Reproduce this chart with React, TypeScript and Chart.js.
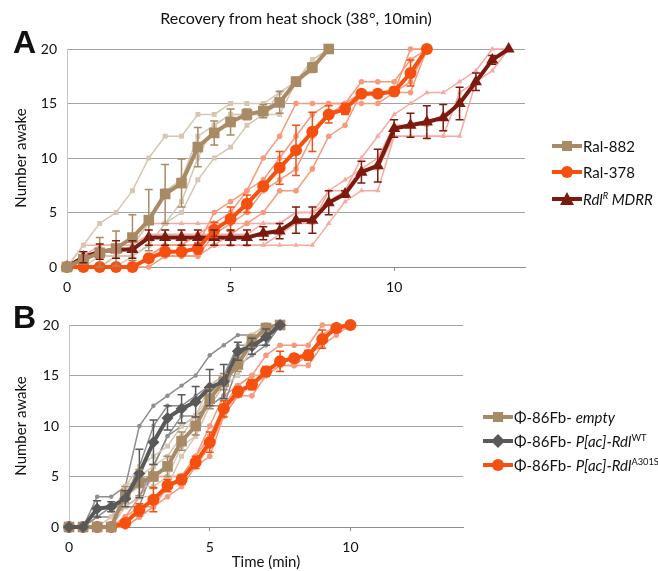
import React, { useEffect, useRef } from 'react';
import { Chart, registerables } from 'chart.js';
Chart.register(...registerables);

const FONT = 'Lato, "Liberation Sans", sans-serif';

// Time points (min)
const TIME_MIN = [0, 0.5, 1, 1.5, 2, 2.5, 3, 3.5, 4, 4.5, 5, 5.5, 6, 6.5, 7, 7.5, 8, 8.5, 9, 9.5, 10, 10.5, 11, 11.5, 12, 12.5, 13, 13.5];
const X_TICKS = [0, 5, 10];

// ---------- Panel A ----------
const RAL882_MEAN = [0, 0.7, 1.3, 1.7, 2.7, 4.3, 6.7, 7.7, 11, 12.3, 13.3, 14, 14.3, 15.1, 17, 18.3, 20];
const RAL882_SEM = [0, 0.4, 1.4, 1.6, 2.1, 2.8, 2.7, 2.2, 1.8, 1.1, 1.2, 0.5, 0.6, 1.0, 0.4, 0.4, 0];
const RAL882_REP1 = [0, 2, 4, 5, 7, 10, 12, 12, 14, 14, 15, 15, 15, 16, 17, 19, 20];
const RAL882_REP2 = [0, 0, 1, 1, 2, 4, 7, 8, 12, 13, 14, 14, 14, 16, 17, 18, 20];
const RAL882_REP3 = [0, 0, 0, 1, 1, 2, 4, 6, 10, 13, 14, 14, 14, 15, 17, 19, 20];
const RAL882_REP4 = [0, 0, 0, 0, 1, 2, 4, 5, 8, 10, 11, 13, 14, 14, 17, 18, 20];

const RAL378_MEAN = [0, 0, 0, 0, 0, 0.8, 1.4, 1.4, 1.7, 3.4, 4.4, 5.8, 7.4, 9.1, 10.7, 12.4, 14, 14.5, 15.9, 15.9, 16.1, 17.8, 20];
const RAL378_SEM = [0, 0, 0, 0, 0, 0.3, 0.4, 0.3, 0.5, 0.7, 1.1, 0.8, 0.4, 1.5, 2.3, 1.8, 0.8, 0.5, 0.3, 0.3, 0.4, 1.2, 0];
const RAL378_REP1 = [0, 0, 0, 0, 0, 1, 2, 2, 2, 5, 6, 7, 10, 12, 15, 15, 15, 15, 15, 15, 16, 20, 20];
const RAL378_REP2 = [0, 0, 0, 0, 0, 1, 2, 2, 3, 4, 5, 7, 8, 10, 12, 14, 15, 15, 17, 17, 17, 19, 20];
const RAL378_REP3 = [0, 0, 0, 0, 0, 1, 1, 1, 1, 3, 4, 5, 7, 8, 9, 12, 14, 15, 16, 16, 16, 17, 20];
const RAL378_REP4 = [0, 0, 0, 0, 0, 0, 1, 1, 1, 2, 3, 4, 5, 7, 7, 9, 12, 13, 16, 16, 16, 16, 20];

const MDRR_MEAN = [0, 0.9, 1.4, 1.6, 1.6, 2.7, 2.7, 2.7, 2.7, 2.7, 2.7, 2.7, 3.1, 3.3, 4.3, 4.3, 5.9, 6.7, 8.7, 9.3, 12.7, 13, 13.3, 13.7, 15, 17, 19, 20];
const MDRR_SEM = [0, 0.5, 0.7, 0.8, 0.8, 0.7, 0.7, 0.7, 0.7, 0.7, 0.7, 0.7, 0.6, 0.7, 1.2, 1.2, 1.1, 0.3, 1.0, 1.5, 0.8, 1.1, 1.5, 1.2, 1.5, 0.8, 0.4, 0];
const MDRR_REP1 = [0, 2, 2, 2, 2, 4, 4, 4, 4, 4, 4, 4, 4, 4, 5, 5, 7, 7, 10, 12, 14, 15, 16, 16, 17, 18, 20, 20];
const MDRR_REP2 = [0, 1, 2, 2, 2, 3, 3, 3, 3, 3, 3, 3, 4, 4, 5, 5, 6, 7, 9, 10, 13, 13, 13, 14, 15, 17, 19, 20];
const MDRR_REP3 = [0, 1, 1, 1, 1, 2, 2, 2, 2, 2, 2, 2, 2, 3, 4, 4, 7, 8, 9, 9, 12, 12, 12, 12, 12, 17, 19, 20];
const MDRR_REP4 = [0, 0, 0, 1, 1, 2, 2, 2, 2, 2, 2, 2, 2, 2, 2, 2, 4, 6, 7, 7, 12, 12, 12, 12, 16, 17, 18, 20];

// ---------- Panel B ----------
const EMPTY_MEAN = [0, 0, 0, 0, 3.2, 4.4, 5, 6, 8.5, 10, 12.7, 14.4, 16.1, 18.4, 19.7, 20];
const EMPTY_SEM = [0, 0, 0, 0, 0.8, 1.3, 1.2, 1.0, 0.9, 0.9, 1.0, 0.8, 0.7, 0.6, 0.3, 0];
const EMPTY_REP1 = [0, 0, 0, 1, 4, 6, 7, 8, 10, 11, 13, 15, 17, 19, 20, 20];
const EMPTY_REP2 = [0, 0, 0, 0, 4, 5, 6, 7, 9, 11, 14, 15, 16, 19, 20, 20];
const EMPTY_REP3 = [0, 0, 0, 0, 3, 4, 4, 5, 8, 9, 12, 14, 16, 18, 19, 20];
const EMPTY_REP4 = [0, 0, 0, 0, 2, 3, 3, 4, 7, 9, 12, 14, 15, 18, 20, 20];

const WT_MEAN = [0, 0, 1.8, 2, 2.8, 5.3, 8.4, 10.8, 11.7, 12.4, 13.8, 14.4, 17.4, 17.9, 18.8, 20];
const WT_SEM = [0, 0, 0.8, 0.5, 0.8, 2.4, 2.2, 1.2, 1.4, 1.5, 1.8, 1.7, 0.9, 0.8, 0.8, 0];
const WT_REP1 = [0, 0, 3, 3, 4, 10, 12, 13, 14, 15, 17, 18, 19, 19, 20, 20];
const WT_REP2 = [0, 0, 2, 2, 3, 6, 10, 12, 12, 13, 14, 15, 18, 18, 19, 20];
const WT_REP3 = [0, 0, 1, 2, 2, 3, 6, 9, 10, 11, 12, 12, 16, 17, 18, 20];
const WT_REP4 = [0, 0, 1, 1, 2, 2, 6, 9, 11, 11, 12, 13, 17, 18, 18, 20];

const A301S_MEAN = [0, 0, 0, 0, 0.4, 1.7, 2.7, 4.1, 4.7, 6.4, 8.4, 11.7, 13.4, 14.1, 15.4, 16.4, 16.7, 17.0, 18.6, 19.7, 20];
const A301S_SEM = [0, 0, 0, 0, 0.3, 0.6, 1.2, 0.6, 0.5, 0.6, 1.0, 0.8, 0.5, 0.5, 0.5, 1.0, 0.4, 0.5, 0.9, 0.3, 0];
const A301S_REP1 = [0, 0, 0, 0, 1, 3, 5, 5, 5, 7, 10, 13, 14, 15, 17, 18, 18, 18, 20, 20, 20];
const A301S_REP2 = [0, 0, 0, 0, 1, 2, 2, 4, 5, 7, 9, 12, 14, 15, 15, 16, 17, 17, 19, 20, 20];
const A301S_REP3 = [0, 0, 0, 0, 0, 1, 2, 4, 5, 6, 8, 11, 13, 14, 15, 16, 16, 17, 18, 20, 20];
const A301S_REP4 = [0, 0, 0, 0, 0, 1, 2, 3, 4, 6, 7, 11, 13, 13, 15, 16, 16, 16, 18, 19, 20];

const C = {
  tan: '#a88b66', tanLight: '#d5c7b3',
  orange: '#f5500f', orangeLight: '#f7997c',
  maroon: '#7d1a0f', pink: '#f6aaa2',
  gray: '#595959', grayLight: '#8e8e8e',
};

function pts(values: number[]) {
  return values.map((v, i) => ({ x: TIME_MIN[i], y: v }));
}

function meanDs(label: string, values: number[], errs: number[], color: string, style: string, radius: number, order: number) {
  return {
    label, data: pts(values), errors: errs, borderColor: color, backgroundColor: color,
    borderWidth: 4, pointStyle: style, pointRadius: radius, pointBackgroundColor: color,
    pointBorderColor: color, pointBorderWidth: 0, tension: 0, clip: false, order,
  };
}
function repDs(values: number[], color: string, style: string, radius: number) {
  return {
    label: '', data: pts(values), borderColor: color, backgroundColor: color,
    borderWidth: 1.5, pointStyle: style, pointRadius: radius, pointBackgroundColor: color,
    pointBorderColor: color, pointBorderWidth: 0, tension: 0, clip: false, order: 10,
  };
}

const errorBarPlugin = {
  id: 'errorBars',
  afterDatasetsDraw(chart: any) {
    const ctx = chart.ctx;
    const xs = chart.scales.x, ys = chart.scales.y;
    chart.data.datasets.forEach((ds: any) => {
      if (!ds.errors) return;
      ctx.save();
      ctx.strokeStyle = ds.borderColor;
      ctx.lineWidth = 1.5;
      ds.data.forEach((p: any, i: number) => {
        const e = ds.errors[i];
        if (!e) return;
        const x = xs.getPixelForValue(p.x);
        const y1 = ys.getPixelForValue(Math.min(20, p.y + e));
        const y2 = ys.getPixelForValue(Math.max(0, p.y - e));
        ctx.beginPath();
        ctx.moveTo(x, y1); ctx.lineTo(x, y2);
        ctx.moveTo(x - 4, y1); ctx.lineTo(x + 4, y1);
        ctx.moveTo(x - 4, y2); ctx.lineTo(x + 4, y2);
        ctx.stroke();
      });
      ctx.restore();
    });
  },
};

function makeConfig(datasets: any[], p: { padRight: number; padTop: number; yWidth: number; xHeight: number; xTitle?: string }) {
  return {
    type: 'line',
    data: { datasets },
    plugins: [errorBarPlugin],
    options: {
      responsive: false,
      animation: false,
      devicePixelRatio: 1,
      layout: { padding: { left: 0, right: p.padRight, top: p.padTop, bottom: 0 } },
      plugins: { legend: { display: false }, tooltip: { enabled: false }, title: { display: false } },
      scales: {
        x: {
          type: 'linear', min: 0, max: 14,
          afterBuildTicks: (s: any) => { s.ticks = X_TICKS.map((v) => ({ value: v })); },
          afterFit: (s: any) => { s.height = p.xHeight; },
          grid: { drawOnChartArea: false, drawTicks: true, tickLength: 4, color: '#8c8c8c' },
          border: { color: '#8c8c8c', width: 1 },
          ticks: { font: { family: FONT, size: 14 }, color: '#111', padding: 8, maxRotation: 0 },
          title: p.xTitle ? { display: true, text: p.xTitle, font: { family: FONT, size: 15 }, color: '#111', padding: { top: 0, bottom: 0 } } : { display: false },
        },
        y: {
          min: 0, max: 20,
          afterFit: (s: any) => { s.width = p.yWidth; },
          ticks: { stepSize: 5, font: { family: FONT, size: 14 }, color: '#111', padding: 10 },
          grid: { color: '#a3a3a3', drawTicks: false, lineWidth: 1 },
          border: { color: '#c4c4c4' },
          title: { display: true, text: 'Number awake', font: { family: FONT, size: 15 }, color: '#111', padding: { top: 12, bottom: 0 } },
        },
      },
    },
  };
}

function Panel({ datasets, top, height, padRight, padTop, yWidth, xHeight, xTitle }: any) {
  const ref = useRef<HTMLCanvasElement>(null);
  useEffect(() => {
    const chart = new Chart(ref.current as HTMLCanvasElement, makeConfig(datasets, { padRight, padTop, yWidth, xHeight, xTitle }) as any);
    return () => chart.destroy();
  }, []);
  return (
    <canvas ref={ref} width={658} height={height}
      style={{ position: 'absolute', left: 0, top, width: 658, height, display: 'block' }} />
  );
}

function Icon({ color, shape }: { color: string; shape: string }) {
  return (
    <svg width={30} height={14} style={{ display: 'block', flex: 'none' }}>
      <line x1={0} y1={7} x2={30} y2={7} stroke={color} strokeWidth={4} />
      {shape === 'rect' && <rect x={10} y={2} width={10} height={10} fill={color} />}
      {shape === 'circle' && <circle cx={15} cy={7} r={6} fill={color} />}
      {shape === 'triangle' && <polygon points="15,0 22,13 8,13" fill={color} />}
      {shape === 'diamond' && <polygon points="15,0 22,7 15,14 8,7" fill={color} />}
    </svg>
  );
}

function LegendRow({ left, centerY, color, shape, children }: any) {
  return (
    <div style={{ position: 'absolute', left, top: centerY - 10, height: 20, display: 'flex', alignItems: 'center', whiteSpace: 'nowrap', fontFamily: FONT, fontSize: 15, color: '#111' }}>
      <Icon color={color} shape={shape} />
      <span style={{ marginLeft: 1 }}>{children}</span>
    </div>
  );
}

const supStyle: React.CSSProperties = { fontSize: '0.62em', verticalAlign: 'super', lineHeight: 0 };

export default function App() {
  const dsA = [
    meanDs('Ral-882', RAL882_MEAN, RAL882_SEM, C.tan, 'rect', 7.5, 0),
    meanDs('Ral-378', RAL378_MEAN, RAL378_SEM, C.orange, 'circle', 6, 1),
    meanDs('Rdl MDRR', MDRR_MEAN, MDRR_SEM, C.maroon, 'triangle', 7, 2),
    repDs(RAL882_REP1, C.tanLight, 'rect', 3.5), repDs(RAL882_REP2, C.tanLight, 'rect', 3.5),
    repDs(RAL882_REP3, C.tanLight, 'rect', 3.5), repDs(RAL882_REP4, C.tanLight, 'rect', 3.5),
    repDs(RAL378_REP1, C.orangeLight, 'circle', 2.8), repDs(RAL378_REP2, C.orangeLight, 'circle', 2.8),
    repDs(RAL378_REP3, C.orangeLight, 'circle', 2.8), repDs(RAL378_REP4, C.orangeLight, 'circle', 2.8),
    repDs(MDRR_REP1, C.pink, 'triangle', 3.2), repDs(MDRR_REP2, C.pink, 'triangle', 3.2),
    repDs(MDRR_REP3, C.pink, 'triangle', 3.2), repDs(MDRR_REP4, C.pink, 'triangle', 3.2),
  ];
  const dsB = [
    meanDs('empty', EMPTY_MEAN, EMPTY_SEM, C.tan, 'rect', 7.5, 1),
    meanDs('WT', WT_MEAN, WT_SEM, C.gray, 'rectRot', 6, 0),
    meanDs('A301S', A301S_MEAN, A301S_SEM, C.orange, 'circle', 6, 2),
    repDs(EMPTY_REP1, C.tanLight, 'rect', 3.5), repDs(EMPTY_REP2, C.tanLight, 'rect', 3.5),
    repDs(EMPTY_REP3, C.tanLight, 'rect', 3.5), repDs(EMPTY_REP4, C.tanLight, 'rect', 3.5),
    repDs(WT_REP1, C.grayLight, 'circle', 2.2), repDs(WT_REP2, C.grayLight, 'circle', 2.2),
    repDs(WT_REP3, C.grayLight, 'circle', 2.2), repDs(WT_REP4, C.grayLight, 'circle', 2.2),
    repDs(A301S_REP1, C.orangeLight, 'circle', 2.8), repDs(A301S_REP2, C.orangeLight, 'circle', 2.8),
    repDs(A301S_REP3, C.orangeLight, 'circle', 2.8), repDs(A301S_REP4, C.orangeLight, 'circle', 2.8),
  ];

  return (
    <div style={{ position: 'absolute', left: 0, top: 0, width: 658, height: 571, background: '#fff', overflow: 'hidden' }}>
      <Panel datasets={dsA} top={0} height={300} padRight={133} padTop={49} yWidth={67} xHeight={33} />
      <Panel datasets={dsB} top={300} height={271} padRight={195} padTop={25} yWidth={69} xHeight={44} xTitle="Time (min)" />

      <div style={{ position: 'absolute', left: 67, width: 458, top: 8, textAlign: 'center', fontFamily: FONT, fontSize: 16, color: '#111' }}>
        Recovery from heat shock (38°, 10min)
      </div>
      <div style={{ position: 'absolute', left: 13, top: 24, fontFamily: '"Liberation Sans", Arial, sans-serif', fontWeight: 'bold', fontSize: 32, color: '#111' }}>A</div>
      <div style={{ position: 'absolute', left: 13, top: 299, fontFamily: '"Liberation Sans", Arial, sans-serif', fontWeight: 'bold', fontSize: 32, color: '#111' }}>B</div>

      <LegendRow left={552} centerY={146} color={C.tan} shape="rect">Ral-882</LegendRow>
      <LegendRow left={552} centerY={172} color={C.orange} shape="circle">Ral-378</LegendRow>
      <LegendRow left={552} centerY={199} color={C.maroon} shape="triangle">
        <i>Rdl<span style={supStyle}>R</span> MDRR</i>
      </LegendRow>

      <LegendRow left={483} centerY={417} color={C.tan} shape="rect">Φ-86Fb- <i>empty</i></LegendRow>
      <LegendRow left={483} centerY={441} color={C.gray} shape="diamond">
        Φ-86Fb- <i>P[ac]-Rdl</i><span style={supStyle}>WT</span>
      </LegendRow>
      <LegendRow left={483} centerY={465} color={C.orange} shape="circle">
        Φ-86Fb- <i>P[ac]-Rdl</i><span style={supStyle}>A301S</span>
      </LegendRow>
    </div>
  );
}
